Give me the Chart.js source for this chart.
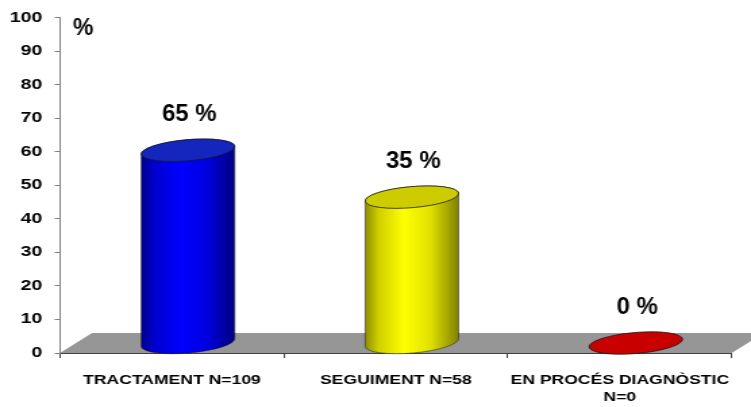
<!DOCTYPE html>
<html>
<head>
<meta charset="utf-8">
<script src="https://cdn.jsdelivr.net/npm/chart.js@4"></script>
<style>
  html, body { margin: 0; padding: 0; background: #fff; overflow: hidden; }
  /* the original picture is stretched sideways, so draw narrow and widen it */
  #wrap { width: 556px; height: 407px; transform: scaleX(1.3507); transform-origin: 0 0; }
</style>
</head>
<body>
<div id="wrap"><canvas id="chart" width="556" height="407"></canvas></div>
<script>
const categories = ['TRACTAMENT N=109', 'SEGUIMENT N=58', ['EN PROCÉS DIAGNÒSTIC', 'N=0']];
const cylinderHeights = [57.5, 43.5, 0];   // as drawn in the picture
const percentages = [65, 35, 0];           // printed above each cylinder
const yTicks = [0, 10, 20, 30, 40, 50, 60, 70, 80, 90, 100];
const sideColors = ['#0000ff', '#ffff00', '#d00000'];
const topColors = ['#1426be', '#cccc00', '#c80000'];

const STRETCH = 751 / 556;
const DEPTH_X = 32 / STRETCH, DEPTH_Y = -20;
const FONT = "'Liberation Sans', Arial, sans-serif";

function shade(hex, f) {
  const n = parseInt(hex.slice(1), 16);
  const r = Math.round(((n >> 16) & 255) * f), g = Math.round(((n >> 8) & 255) * f), b = Math.round((n & 255) * f);
  return `rgb(${r},${g},${b})`;
}

const floor = {
  id: 'floor',
  beforeDraw(chart) {
    const { ctx, chartArea: a } = chart;
    ctx.save();
    ctx.fillStyle = '#969696';
    ctx.beginPath();
    ctx.moveTo(a.left, a.bottom);
    ctx.lineTo(a.left + DEPTH_X, a.bottom + DEPTH_Y);
    ctx.lineTo(a.right + DEPTH_X, a.bottom + DEPTH_Y);
    ctx.lineTo(a.right, a.bottom);
    ctx.closePath();
    ctx.fill();
    ctx.restore();
  }
};

const cylinders = {
  id: 'cylinders',
  afterDatasetsDraw(chart) {
    const { ctx, chartArea: a } = chart;
    const meta = chart.getDatasetMeta(0);
    meta.data.forEach((bar, i) => {
      const cx = bar.x + DEPTH_X / 2;
      const rx = bar.width / 2, ry = 10.5, rot = -0.12;
      const top = bar.y + DEPTH_Y / 2, bottom = bar.base + DEPTH_Y / 2;
      ctx.save();
      ctx.strokeStyle = '#1a1a1a';
      if (bottom - top > 1) {
        const g = ctx.createLinearGradient(cx - rx, 0, cx + rx, 0);
        g.addColorStop(0, shade(sideColors[i], 0.55));
        g.addColorStop(0.15, shade(sideColors[i], 0.82));
        g.addColorStop(0.42, shade(sideColors[i], 1));
        g.addColorStop(0.7, shade(sideColors[i], 0.88));
        g.addColorStop(1, shade(sideColors[i], 0.5));
        ctx.beginPath();
        ctx.ellipse(cx, top, rx, ry, rot, Math.PI, 2 * Math.PI);
        ctx.ellipse(cx, bottom, rx, ry, rot, 0, Math.PI);
        ctx.closePath();
        ctx.fillStyle = g;
        ctx.fill();
        ctx.lineWidth = 0.5;
        ctx.stroke();
      }
      ctx.beginPath();
      ctx.ellipse(cx, top, rx, ry, rot, 0, 2 * Math.PI);
      ctx.fillStyle = topColors[i];
      ctx.fill();
      ctx.lineWidth = 0.8;
      ctx.stroke();

      ctx.translate(cx + 1, top - 36);
      ctx.scale(1 / STRETCH, 1);
      ctx.font = `bold 24px ${FONT}`;
      ctx.textAlign = 'center';
      ctx.textBaseline = 'middle';
      ctx.fillStyle = '#000';
      ctx.fillText(percentages[i] + ' %', 0, 0);
      ctx.restore();
    });

    // unit label next to the value axis
    ctx.save();
    ctx.translate(a.left + 23 / STRETCH, a.top + 11);
    ctx.scale(1 / STRETCH, 1);
    ctx.font = `bold 23px ${FONT}`;
    ctx.textAlign = 'center';
    ctx.textBaseline = 'middle';
    ctx.fillStyle = '#000';
    ctx.fillText('%', 0, 0);
    ctx.restore();
  }
};

new Chart(document.getElementById('chart'), {
  type: 'bar',
  data: {
    labels: categories,
    datasets: [{
      data: cylinderHeights,
      backgroundColor: 'rgba(0,0,0,0)',
      borderWidth: 0,
      barPercentage: 0.42,
      categoryPercentage: 1
    }]
  },
  options: {
    responsive: false,
    animation: false,
    layout: { padding: { top: 17, right: 556 - 733 / STRETCH, left: 0, bottom: 0 } },
    scales: {
      x: {
        afterFit: s => { s.height = 407 - 353; },
        grid: { drawOnChartArea: false, offset: true, tickLength: 5, color: '#404040' },
        border: { color: '#404040' },
        ticks: {
          color: '#000', maxRotation: 0, autoSkip: false, padding: 14,
          font: { family: FONT, size: 13, weight: 'bold', lineHeight: 1.3 }
        }
      },
      y: {
        min: 0, max: 100,
        afterBuildTicks: s => { s.ticks = yTicks.map(v => ({ value: v })); },
        afterFit: s => { s.width = 60 / STRETCH; },
        grid: { drawOnChartArea: false, tickLength: 4, color: '#808080' },
        border: { color: '#808080', dash: [1, 1] },
        ticks: { color: '#000', padding: 9, font: { family: FONT, size: 14.5, weight: 'bold' } }
      }
    },
    plugins: { legend: { display: false }, tooltip: { enabled: false } }
  },
  plugins: [floor, cylinders]
});
</script>
</body>
</html>
